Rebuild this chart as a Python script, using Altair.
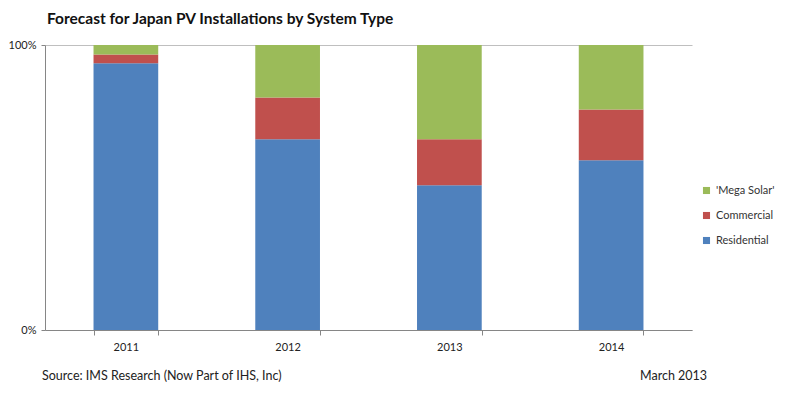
import altair as alt
import pandas as pd

years = ["2011", "2012", "2013", "2014"]
series = ["Residential", "Commercial", "'Mega Solar'"]
residential = [93.6, 66.9, 50.8, 59.6]
commercial = [3.1, 14.7, 16.1, 17.8]
mega_solar = [3.3, 18.4, 33.1, 22.6]
colors = {"'Mega Solar'": "#9BBB59", "Commercial": "#C0504D", "Residential": "#4F81BD"}
title_text = "Forecast for Japan PV Installations by System Type"
source_text = "Source: IMS Research (Now Part of IHS, Inc)"
date_text = "March 2013"

rows = []
for i, y in enumerate(years):
    for k, (name, vals) in enumerate(zip(series, [residential, commercial, mega_solar])):
        rows.append({"year": y, "type": name, "value": vals[i], "order": k})
df = pd.DataFrame(rows)

FONT = "Lato"
W, H = 647, 285

legend_domain = ["'Mega Solar'", "Commercial", "Residential"]

bars = alt.Chart(df).mark_bar().encode(
    x=alt.X("year:N", title=None,
            scale=alt.Scale(paddingInner=0.6, paddingOuter=0.3),
            axis=alt.Axis(labelAngle=0, tickBand="extent", domainColor="#868686",
                          tickColor="#868686", tickSize=5, labelFont=FONT, labelFontSize=11,
                          labelColor="#222222", labelPadding=6)),
    y=alt.Y("value:Q", stack="normalize", title=None,
            scale=alt.Scale(domain=[0, 1]),
            axis=alt.Axis(values=[0, 1], format="%", domain=True, domainColor="#868686",
                          tickColor="#868686", tickSize=4, gridColor="#BFBFBF",
                          labelFont=FONT, labelFontSize=11, labelColor="#222222",
                          labelPadding=5)),
    color=alt.Color("type:N",
                    scale=alt.Scale(domain=legend_domain,
                                    range=[colors[d] for d in legend_domain]),
                    legend=alt.Legend(title=None, orient="none", legendX=656, legendY=140,
                                      symbolType="square", symbolSize=50, symbolStrokeWidth=0,
                                      labelFont=FONT, labelFontSize=11, labelColor="#333333",
                                      rowPadding=13, labelOffset=4)),
    order=alt.Order("order:Q", sort="ascending"),
)

note1 = alt.Chart(pd.DataFrame({"t": [source_text]})).mark_text(
    align="left", baseline="middle", font=FONT, fontSize=12.5, color="#222222").encode(
    x=alt.value(-3), y=alt.value(H + 46), text="t:N")
note2 = alt.Chart(pd.DataFrame({"t": [date_text]})).mark_text(
    align="left", baseline="middle", font=FONT, fontSize=12.5, color="#222222").encode(
    x=alt.value(595), y=alt.value(H + 46), text="t:N")

chart = alt.layer(bars, note1, note2).properties(
    width=W, height=H,
    title=alt.TitleParams(title_text, anchor="start", frame="group", font=FONT, fontSize=15.5,
                          fontWeight="bold", color="#111111", offset=12, dx=2),
    autosize=alt.AutoSizeParams(type="none"),
    padding={"left": 37, "top": 37, "right": 100, "bottom": 67},
).configure_view(stroke=None)

chart.save("out.html", embed_options={"renderer": "svg", "actions": False})
